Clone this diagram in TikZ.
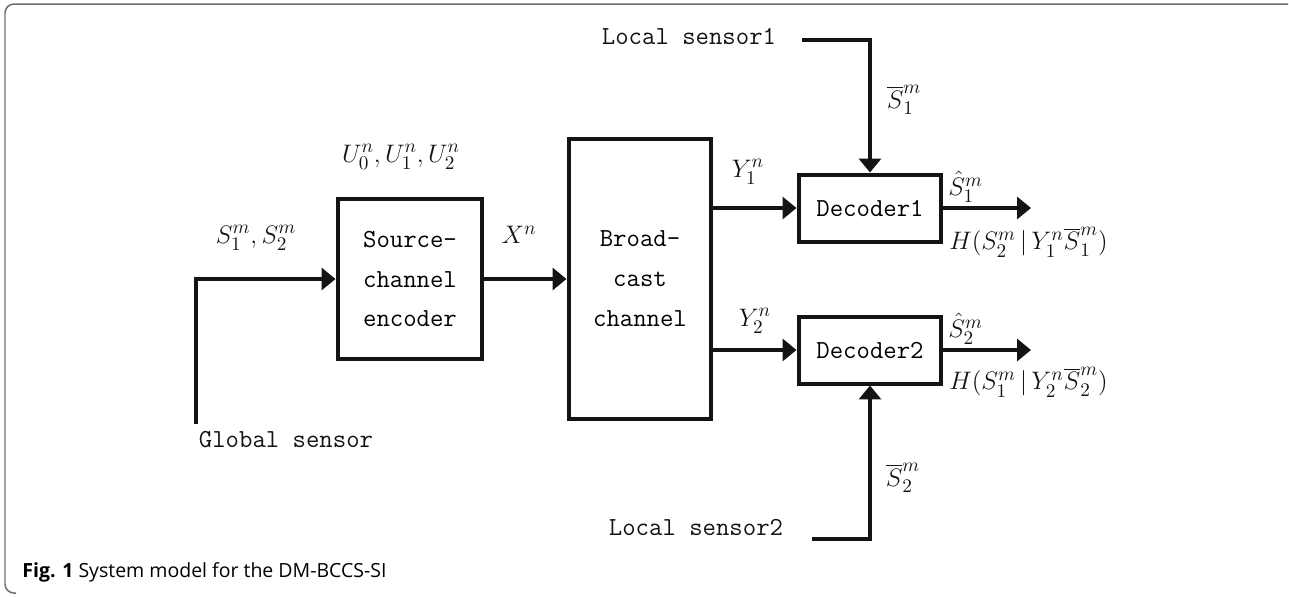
\documentclass[tikz,border=0pt]{standalone}
\usepackage{amsmath}
\usepackage{fontspec}
\usepackage{tikz}
\usetikzlibrary{positioning,arrows.meta,calc}
\newfontfamily\capfont{Open Sans}
\definecolor{inkblack}{HTML}{141414}
\definecolor{framegrey}{HTML}{6E6E6E}
\tikzset{
  bd box/.style={draw=inkblack, line width=0.08cm, align=center, inner sep=0pt,
                 font=\fontsize{14.8}{22.7}\selectfont\ttfamily},
  bd arr/.style={-{Triangle[length=0.28cm, width=0.44cm]}, line width=0.08cm, inkblack},
  bd line/.style={line width=0.08cm, inkblack},
  bd txt/.style={font=\fontsize{14.8}{18}\selectfont\ttfamily, text=inkblack, inner sep=0pt},
  bd math/.style={font=\fontsize{15.5}{18}\selectfont, text=inkblack, inner sep=0pt},
  bd frame/.style={draw=framegrey, line width=0.03cm, rounded corners=0.18cm},
  bd cap/.style={font=\fontsize{11.1}{13}\selectfont\capfont, inner sep=0pt, anchor=west},
}
\begin{document}
\begin{tikzpicture}[x=0.02cm, y=-0.02cm]
  \useasboundingbox (0,0) rectangle (1289,596);
  \draw[bd frame] (1288,4) -- (5,4) -- (5,593) -- (16,593);
  % blocks
  \node[bd box, minimum width=2.9cm, minimum height=3.22cm] (enc) at (410,279) {Source-\\channel\\encoder};
  \node[bd box, minimum width=2.86cm, minimum height=5.62cm] (bc) at (640,279) {Broad-\\cast\\channel};
  \node[bd box, minimum width=2.86cm, minimum height=1.34cm] (dec1) at (870,208) {Decoder1};
  \node[bd box, minimum width=2.86cm, minimum height=1.34cm] (dec2) at (870,350) {Decoder2};
  % sensors
  \node[bd txt] (gs)  at (286,440) {Global sensor};
  \node[bd txt] (ls1) at (689,36)  {Local sensor1};
  \node[bd txt] (ls2) at (696,527) {Local sensor2};
  \coordinate (gs end)  at (196,424);
  \coordinate (ls1 end) at (802,40);
  \coordinate (ls2 end) at (812,539);
  \coordinate (out1) at (1031,208);
  \coordinate (out2) at (1031,350);
  % connectors
  \draw[bd arr] (gs end) |- (enc);
  \draw[bd arr] (enc) -- (bc);
  \draw[bd arr] (bc.east |- dec1) -- (dec1);
  \draw[bd arr] (bc.east |- dec2) -- (dec2);
  \draw[bd arr] (ls1 end) -| (dec1);
  \draw[bd arr] (ls2 end) -| (dec2);
  \draw[bd arr] (dec1) -- (out1);
  \draw[bd arr] (dec2) -- (out2);
  % labels
  \node[bd math] (s12) at (256,238) {$S_1^m,S_2^m$};
  \node[bd math] (u)   at (401,157) {$U_0^n,U_1^n,U_2^n$};
  \node[bd math] (x)   at (519,235) {$X^n$};
  \node[bd math] (y1)  at (748,172) {$Y_1^n$};
  \node[bd math] (y2)  at (755,321) {$Y_2^n$};
  \node[bd math] (sb1) at (904,100) {$\overline{S}_1^m$};
  \node[bd math] (sb2) at (903,478) {$\overline{S}_2^m$};
  \node[bd math, anchor=south west] (sh1) at (948,203) {$\hat{S}_1^m$};
  \node[bd math, anchor=south west] (sh2) at (948,345) {$\hat{S}_2^m$};
  \node[bd math, anchor=west] (h1) at (949,242) {$H(S_2^m\,|\,Y_1^n\overline{S}_1^m)$};
  \node[bd math, anchor=west] (h2) at (949,382) {$H(S_1^m\,|\,Y_2^n\overline{S}_2^m)$};
  % caption
  \node[bd cap] (cap) at (22,572) {\textbf{Fig. 1} System model for the DM-BCCS-SI};
\end{tikzpicture}
\end{document}
